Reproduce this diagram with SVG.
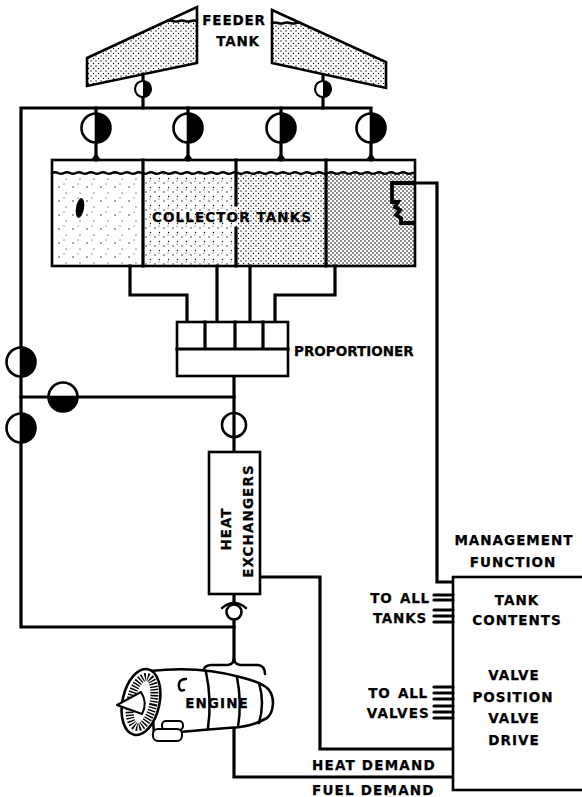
<svg xmlns="http://www.w3.org/2000/svg" width="582" height="797" viewBox="0 0 582 797">
<style>
.ln{fill:none;stroke:#000;stroke-width:3.2;stroke-linejoin:miter;stroke-linecap:square}
.thin{fill:none;stroke:#000;stroke-width:2.5;stroke-linejoin:round;stroke-linecap:round}
.bx{fill:#fff;stroke:#000;stroke-width:2.6}
.ol{fill:none;stroke:#000;stroke-width:2.6;stroke-linejoin:miter}
.stub{stroke:#000;stroke-width:3.2;stroke-linecap:round}
.t{font-family:"DejaVu Sans","Liberation Sans",sans-serif;font-weight:bold;font-size:13.5px;fill:#000;stroke:#000;stroke-width:0.25}
.c{text-anchor:middle}
.e{text-anchor:end}
</style>
<defs>
  <pattern id="dA" width="14" height="14" patternUnits="userSpaceOnUse">
    <circle cx="3" cy="5" r="0.7"/><circle cx="10" cy="11" r="0.6"/><circle cx="8" cy="2" r="0.5"/>
  </pattern>
  <pattern id="dB" width="9" height="9" patternUnits="userSpaceOnUse">
    <circle cx="2" cy="3" r="0.65"/><circle cx="6.5" cy="7.5" r="0.65"/><circle cx="6" cy="1" r="0.5"/>
  </pattern>
  <pattern id="dC" width="5" height="5" patternUnits="userSpaceOnUse">
    <circle cx="1" cy="1" r="0.7"/><circle cx="3.5" cy="3.5" r="0.7"/>
  </pattern>
  <pattern id="dD" width="4" height="4" patternUnits="userSpaceOnUse">
    <circle cx="1" cy="1" r="0.8"/><circle cx="3" cy="3" r="0.8"/>
  </pattern>
  <!-- valve: open left half, closed (black) right half -->
  <g id="vBig">
    <circle r="14.5" fill="#fff" stroke="#000" stroke-width="2.6"/>
    <path d="M0,-14.5 A14.5,14.5 0 0 1 0,14.5 Z" fill="#000"/>
    <line x1="0" y1="-14.5" x2="0" y2="14.5" stroke="#000" stroke-width="2.6"/>
  </g>
  <g id="vSmall">
    <circle r="8" fill="#fff" stroke="#000" stroke-width="2.2"/>
    <path d="M0,-8 A8,8 0 0 1 0,8 Z" fill="#000"/>
  </g>
  <!-- valve in a horizontal pipe: black lower half -->
  <g id="vHor">
    <circle r="14.5" fill="#fff" stroke="#000" stroke-width="2.6"/>
    <path d="M-14.5,0 A14.5,14.5 0 0 0 14.5,0 Z" fill="#000"/>
    <line x1="-14.5" y1="0" x2="14.5" y2="0" stroke="#000" stroke-width="2.6"/>
  </g>
</defs>
<rect width="582" height="797" fill="#fff"/>

<!-- pipework -->
<g id="connectors">
  <!-- feeder manifold and left bypass line -->
  <path class="ln" d="M371,113 V108 H21 V627 H234"/>
  <path class="ln" d="M143,74 V108 M323,75 V108"/>
  <path class="ln" d="M96,108 V114 M188,108 V114 M281,108 V114"/>
  <path class="ln" d="M96,142 V160 M188,142 V160 M281,142 V160 M371,142 V160"/>
  <path d="M91,160 L96,153 L101,160 Z M183,160 L188,153 L193,160 Z M276,160 L281,153 L286,160 Z M366,160 L371,153 L376,160 Z"/>
  <!-- collector outlets to proportioner -->
  <path class="ln" d="M130,266 V295 H187 V322"/>
  <path class="ln" d="M217,266 V322 M250,266 V322"/>
  <path class="ln" d="M335,266 V295 H275 V322"/>
  <!-- proportioner to heat exchangers, cross line -->
  <path class="ln" d="M234,376 V452"/>
  <path class="ln" d="M21,397 H234"/>
  <!-- heat exchangers to engine -->
  <path class="ln" d="M234,594 V604 M234,620 V660"/>
  <!-- demand lines -->
  <path class="ln" d="M260,577 H320 V749 H453"/>
  <path class="ln" d="M234,728 V777 H453"/>
  <!-- tank contents sensing line -->
  <path class="ln" d="M415,183 H437 V582 H453"/>
</g>

<!-- feeder tanks -->
<g id="feeder-tanks">
  <polygon points="87,58 167,21 197,21 197,63 87,86" fill="url(#dC)"/>
  <polygon points="87,58 197,7 197,63 87,86" class="ol" fill="none"/>
  <path class="thin" stroke-width="1.5" d="M167,21 q3,-1.2 6,0 t6,0 t6,0 t6,0 t6,0"/>
  <polygon points="272,23 301,23 386,62 386,88 272,63" fill="url(#dC)"/>
  <polygon points="272,10 386,62 386,88 272,63" class="ol" fill="none"/>
  <path class="thin" stroke-width="1.5" d="M272,23 q3,-1.2 6,0 t6,0 t6,0 t6,0 t5,0"/>
  <text class="t c" x="234" y="25" font-size="13.5" letter-spacing="0.8">FEEDER</text>
  <text class="t c" x="238" y="46" font-size="13.5" letter-spacing="0.8">TANK</text>
</g>

<!-- feeder and collector valves -->
<g id="valves-top">
  <use href="#vSmall" x="143" y="89"/>
  <use href="#vSmall" x="323" y="89"/>
  <use href="#vBig" x="96" y="128"/>
  <use href="#vBig" x="188" y="128"/>
  <use href="#vBig" x="281" y="128"/>
  <use href="#vBig" x="371" y="128"/>
</g>

<!-- collector tanks -->
<g id="collector-tanks">
  <rect x="52" y="173" width="91" height="93" fill="url(#dA)"/>
  <rect x="143" y="173" width="93" height="93" fill="url(#dB)"/>
  <rect x="236" y="173" width="90" height="93" fill="url(#dC)"/>
  <rect x="326" y="173" width="89" height="93" fill="url(#dD)"/>
  <rect x="52" y="160" width="363" height="106" class="ol"/>
  <path class="ln" stroke-width="2.6" d="M143,160 V266 M326,160 V266 M236,160 V205 M236,228 V266"/>
  <path class="thin" stroke-width="1.6" d="M52,173 q3,-1.6 6,0 t6,0 t6,0 t6,0 t6,0 t6,0 t6,0 t6,0 t6,0 t6,0 t6,0 t6,0 t6,0 t6,0 t6,0 t6,0 t6,0 t6,0 t6,0 t6,0 t6,0 t6,0 t6,0 t6,0 t6,0 t6,0 t6,0 t6,0 t6,0 t6,0 t6,0 t6,0 t6,0 t6,0 t6,0 t6,0 t6,0 t6,0 t6,0 t6,0 t6,0 t6,0 t6,0 t6,0 t6,0 t6,0 t6,0 t6,0 t6,0 t6,0 t6,0 t6,0 t6,0 t6,0 t6,0 t6,0 t6,0 t6,0 t6,0 t6,0 L415,173"/>
  <ellipse cx="80" cy="208" rx="4" ry="10" transform="rotate(10 80 208)"/>
  <!-- contents gauge -->
  <path fill="none" stroke="#000" stroke-width="3.8" stroke-linejoin="miter" d="M415,183 H392 V202 H398 L395,207 L400,210 L396,215 L401,218 V223 H415"/>
  <text class="t c" x="232" y="222" font-size="14" letter-spacing="1.1">COLLECTOR TANKS</text>
</g>

<!-- proportioner -->
<g id="proportioner">
  <rect x="177" y="322" width="111" height="54" class="bx"/>
  <path class="ln" stroke-width="2.6" d="M177,349 H288 M205,322 V349 M235,322 V349 M263,322 V349"/>
  <text class="t" x="294" y="356" font-size="12.5">PROPORTIONER</text>
</g>

<!-- line valves -->
<g id="valves-lines">
  <use href="#vBig" x="21" y="362"/>
  <use href="#vBig" x="21" y="428"/>
  <use href="#vHor" x="63" y="397"/>
  <circle cx="234" cy="425" r="12" fill="none" stroke="#000" stroke-width="2.6"/>
</g>

<!-- heat exchangers -->
<g id="heat-exchangers">
  <rect x="209" y="452" width="51" height="142" class="bx"/>
  <text class="t c" transform="translate(231 529) rotate(-90)" font-size="13.5" letter-spacing="1">HEAT</text>
  <text class="t c" transform="translate(253 521) rotate(-90)" font-size="13.5" letter-spacing="1.1">EXCHANGERS</text>
</g>

<!-- non-return valve below heat exchangers -->
<g id="check-valve">
  <circle cx="234" cy="612" r="7.5" fill="#fff" stroke="#000" stroke-width="2.6"/>
  <path class="thin" d="M222,608 Q234,598 246,608"/>
</g>

<!-- engine -->
<g id="engine">
  <path class="thin" d="M203,674 Q203,665 211,665 L228,665 Q234,664 234,658 Q234,664 240,665 L258,665 Q265,666 265,674"/>
  <path fill="#fff" stroke="#000" stroke-width="2.6" stroke-linejoin="round" d="M150,671 C185,667 215,670 240,677 C256,681 265,685 269,690 C275,698 274,712 267,718 C258,723 250,726 240,727 C215,729 185,731 154,735 Z"/>
  <path class="thin" d="M206,672 Q212,700 208,728"/>
  <path class="thin" d="M237,677 Q242,703 238,727"/>
  <path class="thin" d="M259,683 Q265,703 259,723"/>
  <path class="thin" d="M186,679 Q178,679 179,687 Q180,692 184,690"/>
  <ellipse cx="141" cy="702" rx="18.5" ry="33.5" transform="rotate(12 141 702)" fill="#fff" stroke="#000" stroke-width="2.6"/>
  <ellipse cx="142" cy="702" rx="11.5" ry="25.5" transform="rotate(12 142 702)" fill="none" stroke="#000" stroke-width="8" stroke-dasharray="1.4 1.5"/>
  <path fill="#fff" stroke="#000" stroke-width="2" stroke-linejoin="round" d="M117,705 L141,692 Q148,703 142,714 Z"/>
  <rect x="162" y="721" width="21" height="9" rx="4" fill="#fff" stroke="#000" stroke-width="2"/>
  <rect x="153" y="729" width="29" height="12" rx="5" fill="#fff" stroke="#000" stroke-width="2"/>
  <text class="t c" x="217" y="708" font-size="13.5" letter-spacing="1.1">ENGINE</text>
</g>

<!-- management function -->
<g id="management-function">
  <rect x="453" y="577" width="140" height="213" class="bx"/>
  <text class="t c" x="514" y="545" letter-spacing="1">MANAGEMENT</text>
  <text class="t c" x="513" y="567" letter-spacing="1">FUNCTION</text>
  <text class="t c" x="517" y="605" font-size="13" letter-spacing="1">TANK</text>
  <text class="t c" x="517" y="625" font-size="13" letter-spacing="1">CONTENTS</text>
  <text class="t c" x="514" y="680" font-size="13" letter-spacing="1">VALVE</text>
  <text class="t c" x="513" y="702" font-size="13" letter-spacing="1">POSITION</text>
  <text class="t c" x="514" y="723" font-size="13" letter-spacing="1">VALVE</text>
  <text class="t c" x="514" y="745" font-size="13" letter-spacing="1">DRIVE</text>
  <g id="signal-stubs">
    <line class="stub" x1="434" y1="595" x2="453" y2="595"/>
    <line class="stub" x1="434" y1="600" x2="453" y2="600"/>
    <line class="stub" x1="434" y1="610" x2="453" y2="610"/>
    <line class="stub" x1="434" y1="616" x2="453" y2="616"/>
    <line class="stub" x1="434" y1="622" x2="453" y2="622"/>
    <line class="stub" x1="434" y1="687" x2="453" y2="687"/>
    <line class="stub" x1="434" y1="693" x2="453" y2="693"/>
    <line class="stub" x1="434" y1="699" x2="453" y2="699"/>
    <line class="stub" x1="434" y1="706" x2="453" y2="706"/>
    <line class="stub" x1="434" y1="712" x2="453" y2="712"/>
    <line class="stub" x1="434" y1="718" x2="453" y2="718"/>
  </g>
  <text class="t e" x="430" y="603" font-size="13" letter-spacing="0.8" word-spacing="2">TO ALL</text>
  <text class="t e" x="427" y="623" font-size="13" letter-spacing="0.8">TANKS</text>
  <text class="t e" x="428" y="698" font-size="13" letter-spacing="0.8" word-spacing="2">TO ALL</text>
  <text class="t e" x="430" y="718" font-size="13" letter-spacing="1.2">VALVES</text>
</g>

<!-- demand labels -->
<g id="demand-labels">
  <text class="t" x="312" y="770" font-size="13.5" letter-spacing="1.2">HEAT DEMAND</text>
  <text class="t" x="312" y="795" font-size="13.5" letter-spacing="1.2">FUEL DEMAND</text>
</g>
</svg>
